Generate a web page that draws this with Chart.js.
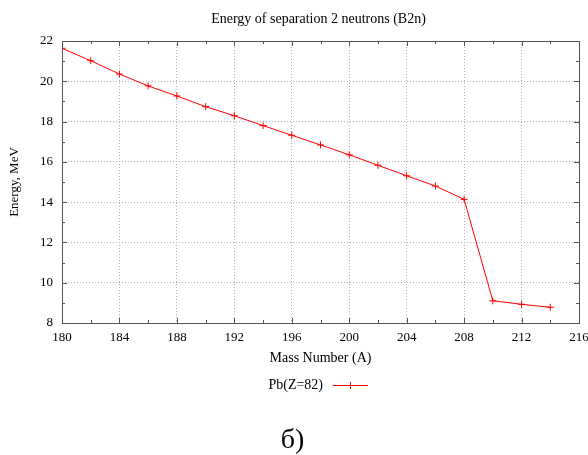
<!DOCTYPE html>
<html>
<head>
<meta charset="utf-8">
<script src="https://cdn.jsdelivr.net/npm/chart.js@4/dist/chart.umd.min.js"></script>
<style>
  html, body { margin: 0; padding: 0; background: #fff; }
  #wrap { position: relative; width: 588px; height: 455px; }
</style>
</head>
<body>
<div id="wrap"><canvas id="c" width="588" height="455"></canvas></div>
<script>
// ---- data ----
const massNumbers = [180, 182, 184, 186, 188, 190, 192, 194, 196, 198, 200, 202, 204, 206, 208, 210, 212, 214];
const b2nEnergy   = [21.64, 21.02, 20.36, 19.77, 19.27, 18.74, 18.29, 17.80, 17.32, 16.84, 16.35, 15.83, 15.31, 14.80, 14.14, 9.10, 8.93, 8.78];
const seriesLabel = 'Pb(Z=82)';
const chartTitle  = 'Energy of separation 2 neutrons (B2n)';
const xTitle      = 'Mass Number (A)';
const yTitle      = 'Energy, MeV';
const captionText = 'б)';
const xRange = [180, 216];
const yRange = [8, 22];

const SERIF = '"Liberation Serif", "DejaVu Serif", serif';

const points = massNumbers.map((m, i) => ({ x: m, y: b2nEnergy[i] }));

const framePlugin = {
  id: 'frame',
  afterDraw(chart) {
    const { ctx, chartArea: a, scales } = chart;
    const xs = scales.x, ys = scales.y;
    ctx.save();
    // border box
    ctx.strokeStyle = '#555';
    ctx.lineWidth = 1;
    ctx.setLineDash([]);
    ctx.strokeRect(Math.round(a.left) + 0.5, Math.round(a.top) + 0.5,
                   Math.round(a.right - a.left), Math.round(a.bottom - a.top));
    // ticks (major + minor) on all four sides
    ctx.beginPath();
    for (let v = xRange[0]; v <= xRange[1]; v += 2) {
      const px = Math.round(xs.getPixelForValue(v)) + 0.5;
      const len = (v % 4 === 0) ? 5 : 3;
      ctx.moveTo(px, a.bottom); ctx.lineTo(px, a.bottom - len);
      ctx.moveTo(px, a.top); ctx.lineTo(px, a.top + len);
    }
    for (let v = yRange[0]; v <= yRange[1]; v += 1) {
      const py = Math.round(ys.getPixelForValue(v)) + 0.5;
      const len = (v % 2 === 0) ? 5 : 3;
      ctx.moveTo(a.left, py); ctx.lineTo(a.left + len, py);
      ctx.moveTo(a.right, py); ctx.lineTo(a.right - len, py);
    }
    ctx.stroke();

    // chart title
    ctx.fillStyle = '#000';
    ctx.font = '14px ' + SERIF;
    ctx.textAlign = 'center';
    ctx.textBaseline = 'middle';
    ctx.fillText(chartTitle, (a.left + a.right) / 2 - 2, 19);

    // legend (gnuplot style: text, then line sample)
    const ds = chart.data.datasets[0];
    const ly = 385;
    ctx.font = '14px ' + SERIF;
    ctx.textAlign = 'right';
    ctx.fillText(ds.label, 323, ly);
    ctx.strokeStyle = ds.borderColor;
    ctx.lineWidth = 1;
    ctx.beginPath();
    ctx.moveTo(333, ly + 0.5); ctx.lineTo(368, ly + 0.5);
    ctx.moveTo(350.5, ly - 3); ctx.lineTo(350.5, ly + 4);
    ctx.stroke();

    // caption
    ctx.fillStyle = '#000';
    ctx.font = '28px ' + SERIF;
    ctx.textAlign = 'center';
    ctx.textBaseline = 'alphabetic';
    ctx.fillText(captionText, 292.5, 448);
    ctx.restore();
  }
};

new Chart(document.getElementById('c'), {
  type: 'scatter',
  data: {
    datasets: [{
      label: seriesLabel,
      data: points,
      showLine: true,
      borderColor: '#ff0000',
      backgroundColor: '#ff0000',
      borderWidth: 1,
      pointStyle: 'cross',
      pointRadius: 3.5,
      pointBorderWidth: 1,
      pointHoverRadius: 3.5,
      tension: 0
    }]
  },
  options: {
    responsive: false,
    animation: false,
    events: [],
    layout: { padding: { left: 0, right: 9, top: 41, bottom: 88 } },
    plugins: {
      legend: { display: false },
      title: { display: false },
      tooltip: { enabled: false }
    },
    scales: {
      x: {
        type: 'linear',
        min: xRange[0], max: xRange[1],
        ticks: { stepSize: 4, padding: 7, color: '#000', font: { family: SERIF, size: 13 }, maxRotation: 0 },
        grid: { color: '#b0b0b0', lineWidth: 1, drawTicks: false },
        border: { display: false, dash: [1, 2] },
        title: { display: true, text: xTitle, color: '#000', font: { family: SERIF, size: 14 }, padding: { top: 0, bottom: 0 } },
        afterFit(s) { s.height = 44; s.paddingLeft = 0; s.paddingRight = 0; }
      },
      y: {
        type: 'linear',
        min: yRange[0], max: yRange[1],
        ticks: { stepSize: 2, padding: 9, color: '#000', font: { family: SERIF, size: 13 } },
        grid: { color: '#b0b0b0', lineWidth: 1, drawTicks: false },
        border: { display: false, dash: [1, 2] },
        title: { display: true, text: yTitle, color: '#000', font: { family: SERIF, size: 13 }, padding: { top: 7, bottom: 0 } },
        afterFit(s) { s.width = 62; s.paddingTop = 0; s.paddingBottom = 0; }
      }
    }
  },
  plugins: [framePlugin]
});
</script>
</body>
</html>
